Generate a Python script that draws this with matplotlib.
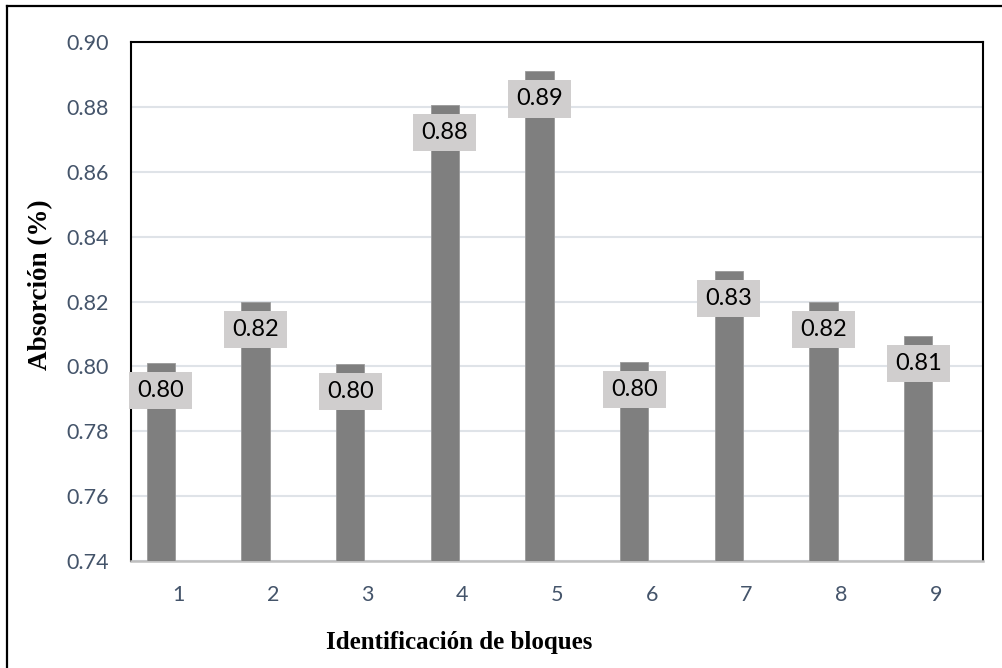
import numpy as np
import matplotlib.pyplot as plt
from matplotlib.lines import Line2D

# Data
bloques = ["1", "2", "3", "4", "5", "6", "7", "8", "9"]
absorcion = [0.801, 0.820, 0.8007, 0.8806, 0.891, 0.8013, 0.8294, 0.8198, 0.8094]
y_ticks = [0.74, 0.76, 0.78, 0.80, 0.82, 0.84, 0.86, 0.88, 0.90]

TICK_COLOR = "#44546a"
BAR_COLOR = "#7f7f7f"
BOX_COLOR = "#d0cece"
GRID_COLOR = "#dfe3e8"
W, H = 1002, 668


def main():
    fig = plt.figure(figsize=(W / 100, H / 100), dpi=100)
    ax = fig.add_axes([0.1307, 0.1602, 0.8504, 0.7769])

    x = np.arange(len(bloques))
    # bars sit a bit left of the category centre (excel clustered layout)
    bar_x = x - 0.185
    ax.bar(bar_x, absorcion, width=0.30, bottom=0, color=BAR_COLOR,
           edgecolor="#9a9a9a", linewidth=0.6, zorder=3)

    for bx, v in zip(bar_x, absorcion):
        ax.annotate(f"{v:.2f}", xy=(bx, v), xytext=(0, -20), textcoords="offset points",
                    ha="center", va="center", fontsize=17, family="Lato", color="black",
                    bbox=dict(boxstyle="square,pad=0.34", facecolor=BOX_COLOR, edgecolor="none"),
                    zorder=4)

    ax.set_xlim(-0.5, len(bloques) - 0.5)
    ax.set_ylim(0.74, 0.90)
    ax.set_yticks(y_ticks)
    ax.set_yticklabels([f"{t:.2f}" for t in y_ticks])
    ax.set_xticks(x)
    ax.set_xticklabels(bloques)
    ax.tick_params(axis="both", length=0, labelsize=15.5, labelcolor=TICK_COLOR)
    ax.tick_params(axis="y", pad=16)
    ax.tick_params(axis="x", pad=17)
    for lab in ax.get_xticklabels() + ax.get_yticklabels():
        lab.set_family("Lato")

    ax.grid(axis="y", color=GRID_COLOR, linewidth=1.5, zorder=0)
    ax.set_axisbelow(True)

    for side in ["top", "left", "right"]:
        ax.spines[side].set_color("black")
        ax.spines[side].set_linewidth(1.5)
    ax.spines["bottom"].set_color("#bfbfbf")
    ax.spines["bottom"].set_linewidth(1.8)

    # axis titles placed where they sit in the original
    fig.text(41 / W, 1 - 285 / H, "Absorción (%)", family="Liberation Serif", fontsize=19.5,
             fontweight="bold", rotation=90, ha="center", va="center")
    fig.text(459 / W, 1 - 643 / H, "Identificación de bloques", family="Liberation Serif",
             fontsize=18, fontweight="bold", ha="center", va="center")

    # outer frame, cut at the right and bottom like the source image
    fig.add_artist(Line2D([7 / W, 7 / W], [0, 1 - 6 / H], transform=fig.transFigure,
                          color="black", linewidth=1.6))
    fig.add_artist(Line2D([7 / W, 1], [1 - 6 / H, 1 - 6 / H], transform=fig.transFigure,
                          color="black", linewidth=1.6))

    fig.savefig("out.png", dpi=100)


if __name__ == "__main__":
    main()
